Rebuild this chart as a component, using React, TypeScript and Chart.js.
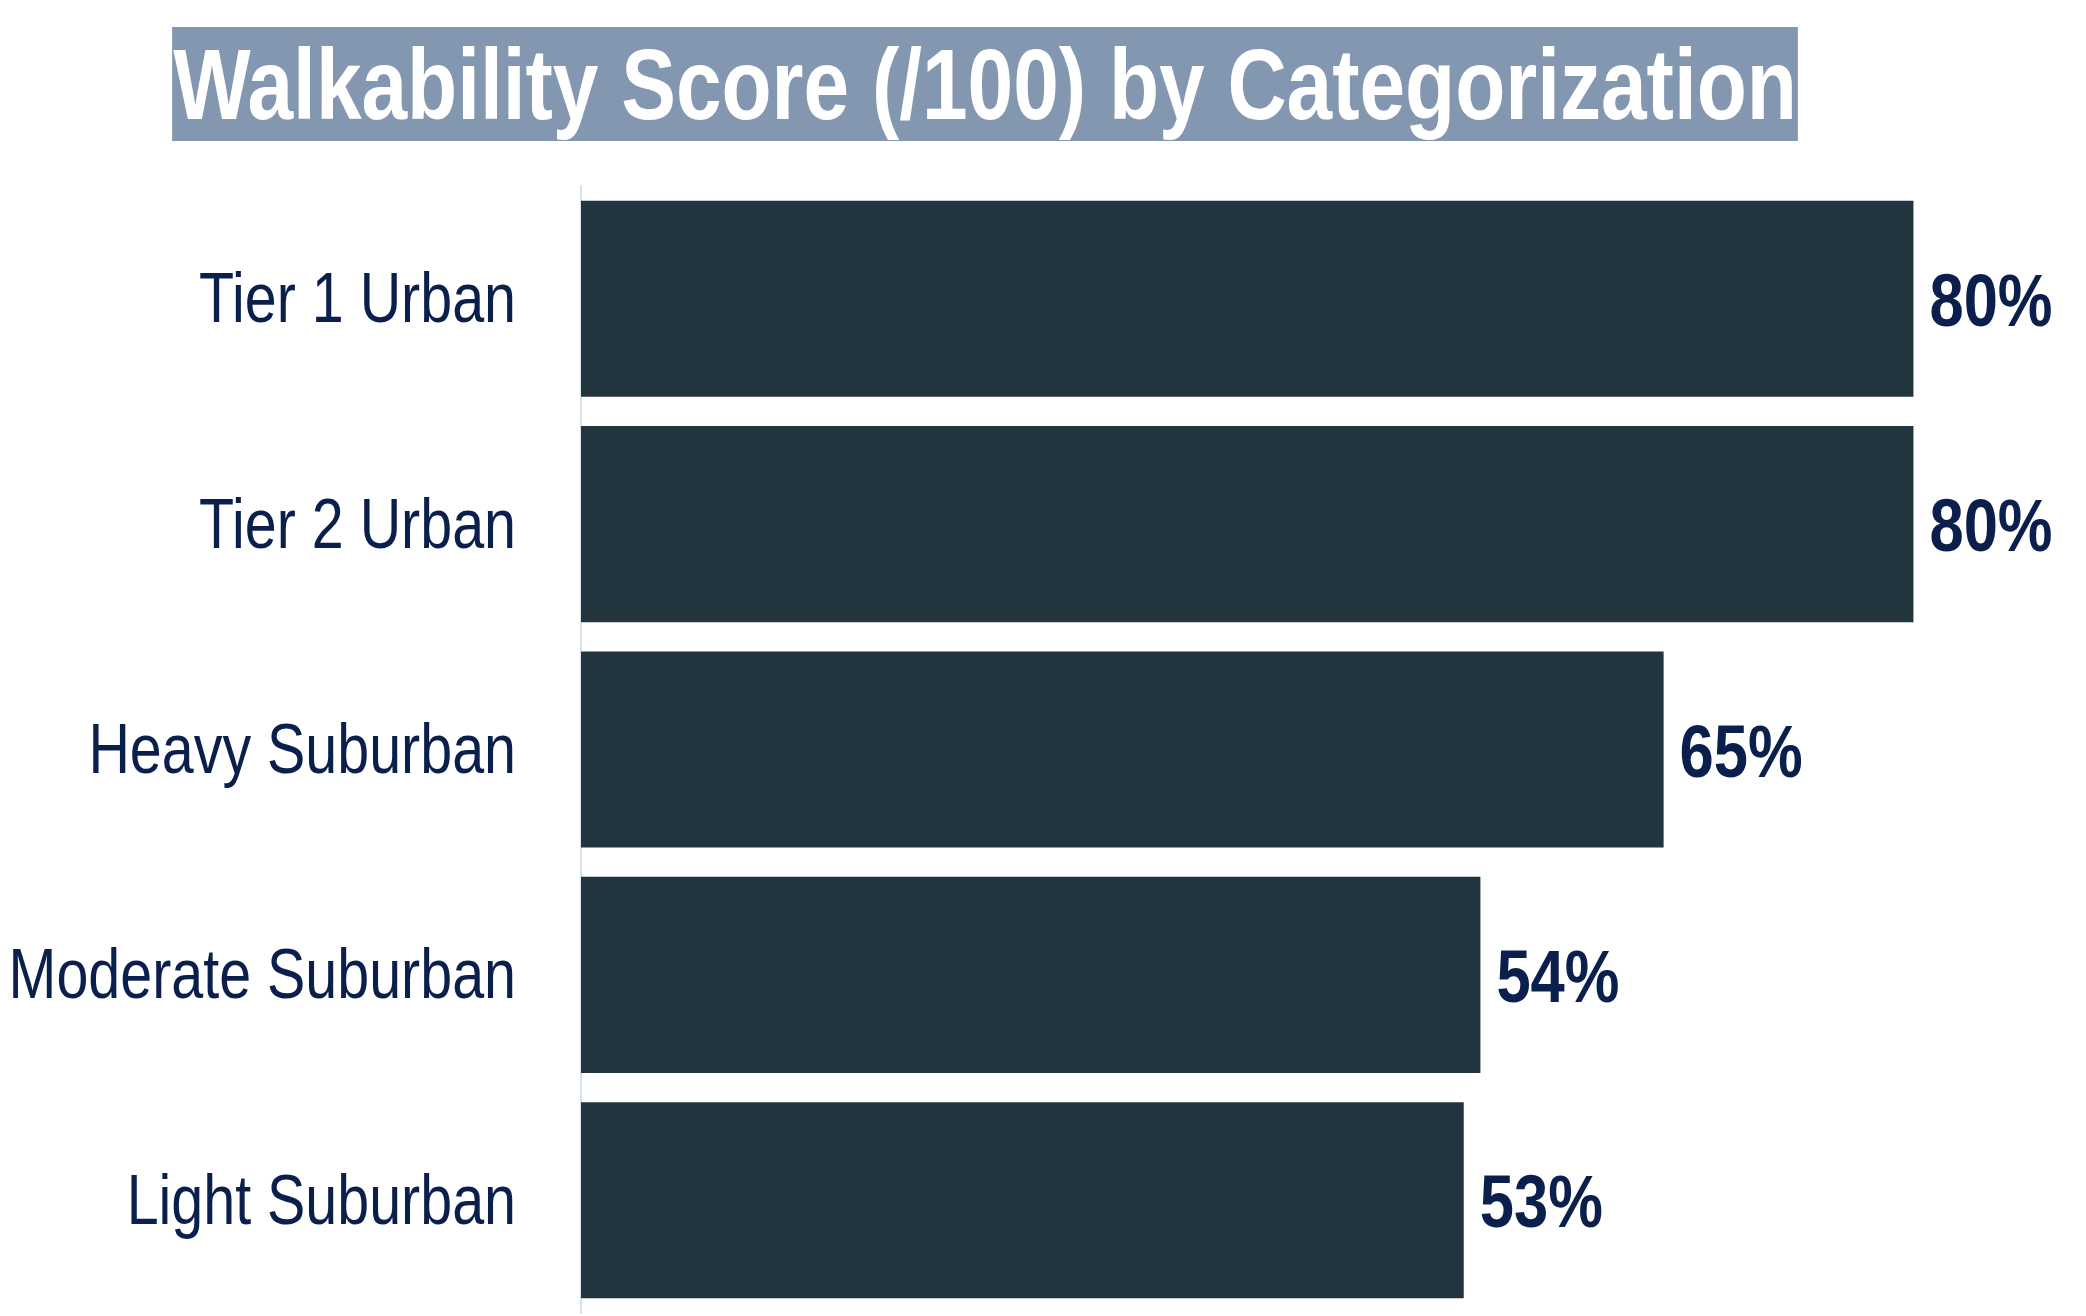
import React, { useEffect, useRef } from 'react';
import { Chart, registerables } from 'chart.js';

Chart.register(...registerables);

const categories = ['Tier 1 Urban', 'Tier 2 Urban', 'Heavy Suburban', 'Moderate Suburban', 'Light Suburban'];
const scores = [80, 80, 65, 54, 53];
const valueLabels = ['80%', '80%', '65%', '54%', '53%'];
const titleText = 'Walkability Score (/100) by Categorization';

const FONT = '"Liberation Sans", Arial, sans-serif';
const NARROW = 0.82;
const NAVY = '#0b1f4d';

function narrowText(ctx: CanvasRenderingContext2D, text: string, x: number, y: number, align: CanvasTextAlign) {
  ctx.save();
  ctx.translate(x, y);
  ctx.scale(NARROW, 1);
  ctx.textAlign = align;
  ctx.textBaseline = 'alphabetic';
  ctx.fillText(text, 0, 0);
  ctx.restore();
}

export default function App() {
  const ref = useRef<HTMLCanvasElement | null>(null);

  useEffect(() => {
    if (!ref.current) return;

    const titlePlugin = {
      id: 'boxTitle',
      afterDraw(chart: any) {
        const ctx = chart.ctx as CanvasRenderingContext2D;
        ctx.save();
        ctx.font = `bold 100px ${FONT}`;
        const w = ctx.measureText(titleText).width * NARROW;
        const cx = 985;
        ctx.fillStyle = '#8497b0';
        ctx.fillRect(cx - w / 2 - 1, 27, w + 2, 114);
        ctx.fillStyle = '#ffffff';
        narrowText(ctx, titleText, cx, 119, 'center');
        ctx.restore();
      },
    };

    const labelPlugin = {
      id: 'narrowLabels',
      afterDatasetsDraw(chart: any) {
        const ctx = chart.ctx as CanvasRenderingContext2D;
        const yScale = chart.scales.y;
        const meta = chart.getDatasetMeta(0);
        ctx.save();
        ctx.fillStyle = NAVY;
        ctx.font = `70px ${FONT}`;
        categories.forEach((c, i) => {
          const y = yScale.getPixelForValue(i);
          narrowText(ctx, c, yScale.right - 65, y + 23.5, 'right');
        });
        ctx.font = `bold 75px ${FONT}`;
        meta.data.forEach((bar: any, i: number) => {
          narrowText(ctx, valueLabels[i], bar.x + 16, bar.y + 27, 'left');
        });
        ctx.restore();
      },
    };

    const chart = new Chart(ref.current, {
      type: 'bar',
      data: {
        labels: categories,
        datasets: [
          {
            data: scores,
            backgroundColor: '#22343e',
            borderWidth: 0,
            barPercentage: 0.87,
            categoryPercentage: 1,
          },
        ],
      },
      options: {
        indexAxis: 'y',
        animation: false,
        responsive: false,
        devicePixelRatio: 1,
        layout: { padding: { top: 186, bottom: 3, left: 0, right: 6 } },
        plugins: {
          legend: { display: false },
          title: { display: false },
          tooltip: { enabled: false },
        },
        scales: {
          x: { display: false, min: 0, max: 90 },
          y: {
            grid: { display: false, drawTicks: false, tickLength: 0 },
            border: { display: true, color: '#d6e2e8', width: 2 },
            ticks: { display: false, padding: 0 },
            afterFit(scale: any) {
              scale.width = 581;
              scale.paddingTop = 0;
              scale.paddingBottom = 0;
            },
          },
        },
      },
      plugins: [titlePlugin, labelPlugin],
    });

    return () => chart.destroy();
  }, []);

  return (
    <div style={{ position: 'fixed', left: 0, top: 0, width: 2086, height: 1316, background: '#ffffff' }}>
      <canvas ref={ref} width={2086} height={1316} style={{ display: 'block' }} />
    </div>
  );
}
